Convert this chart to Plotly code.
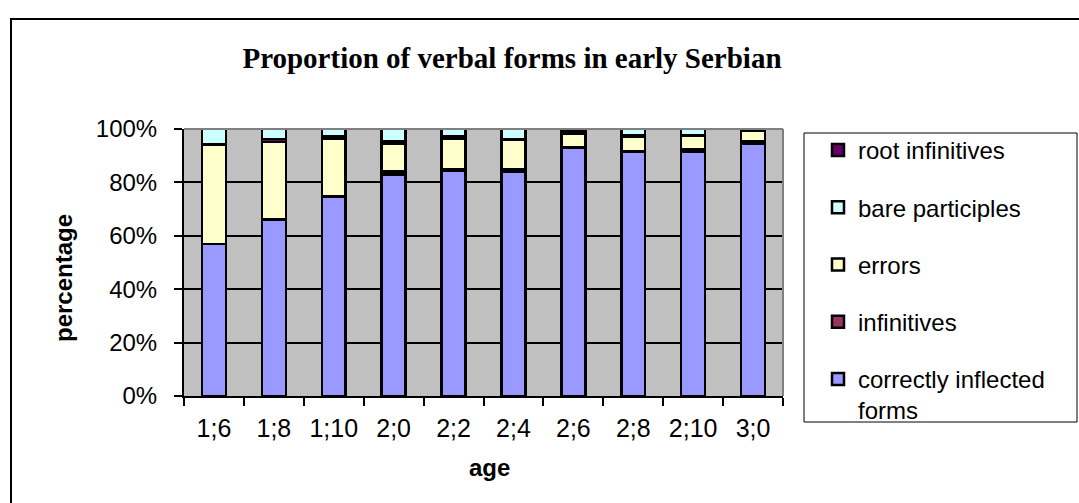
import plotly.graph_objects as go

# Ages (years;months)
ages = ["1;6", "1;8", "1;10", "2;0", "2;2", "2;4", "2;6", "2;8", "2;10", "3;0"]

# Percent of verbal forms at each age
correctly_inflected = [57.0, 66.0, 74.5, 83.0, 84.5, 84.0, 93.0, 91.5, 91.5, 94.3]
infinitives = [0.0, 0.2, 0.3, 1.0, 0.3, 1.0, 0.3, 0.3, 1.0, 1.0]
errors = [37.0, 29.0, 21.5, 10.5, 11.5, 11.0, 5.0, 5.2, 5.0, 4.0]
root_infinitives = [0.3, 1.0, 0.8, 0.9, 0.8, 0.3, 0.8, 0.7, 0.3, 0.7]
bare_participles = [5.7, 3.8, 2.9, 4.6, 2.9, 3.7, 0.9, 2.3, 2.2, 0.0]

y_ticks = [0, 20, 40, 60, 80, 100]
y_tick_labels = ["0%", "20%", "40%", "60%", "80%", "100%"]

# (name, values, colour, legend rank) in stacking order, bottom first
series = [
    ("correctly inflected<br>forms", correctly_inflected, "#9999FF", 5),
    ("infinitives", infinitives, "#993366", 4),
    ("errors", errors, "#FFFFCC", 3),
    ("root infinitives", root_infinitives, "#660066", 1),
    ("bare participles", bare_participles, "#CCFFFF", 2),
]

W, H = 1079, 503
L, R, T, B = 184, 783, 129, 396  # plot area in pixels


def px(x):
    return (x - L) / (R - L)


def py(y):
    return (B - y) / (B - T)


fig = go.Figure()
for i, (name, vals, color, rank) in enumerate(series):
    fig.add_trace(go.Bar(
        x=ages, y=vals, name=name,
        marker=dict(color=color, line=dict(color="black", width=2.5)),
        legendgroup=f"g{i}", legendrank=rank,
    ))

sans = "Liberation Sans, Arial, sans-serif"

fig.update_layout(
    width=W, height=H, autosize=False,
    margin=dict(l=L, r=W - R, t=T, b=H - B),
    barmode="stack", bargap=0.6,
    paper_bgcolor="white", plot_bgcolor="#C0C0C0",
    font=dict(family=sans, color="black"),
    title=dict(
        text="<b>Proportion of verbal forms in early Serbian</b>",
        font=dict(family="Liberation Serif, Times New Roman, serif", size=29, color="black"),
        x=512 / W, xanchor="center", xref="container",
        y=1 - 58 / H, yanchor="middle", yref="container",
    ),
    showlegend=True,
    legend=dict(
        x=px(818), xanchor="left", y=py(128), yanchor="top",
        font=dict(family=sans, size=24, color="black"),
        bgcolor="rgba(0,0,0,0)", borderwidth=0,
        tracegroupgap=23, valign="top", itemwidth=30,
        maxheight=460,
    ),
    xaxis=dict(
        type="category", tickson="boundaries", ticks="outside", ticklen=8,
        tickcolor="black", tickwidth=1.5,
        showline=True, linecolor="black", linewidth=2,
        tickfont=dict(family=sans, size=25, color="black"),
        ticklabelstandoff=9, showgrid=False, fixedrange=True,
    ),
    yaxis=dict(
        range=[0, 100], tickvals=y_ticks, ticktext=y_tick_labels,
        ticks="outside", ticklen=8, tickcolor="black", tickwidth=1.5,
        showline=True, linecolor="black", linewidth=2,
        showgrid=True, gridcolor="black", gridwidth=1.5,
        tickfont=dict(family=sans, size=24, color="black"),
        ticklabelstandoff=12, zeroline=False, fixedrange=True,
    ),
    shapes=[
        # outer chart frame
        dict(type="rect", xref="paper", yref="paper",
             x0=px(11), x1=px(1090), y0=py(520), y1=py(19),
             line=dict(color="black", width=2), fillcolor="rgba(0,0,0,0)", layer="below"),
        # plot area top and right edges
        dict(type="line", xref="paper", yref="paper", x0=0, x1=1, y0=1, y1=1,
             line=dict(color="#808080", width=2)),
        dict(type="line", xref="paper", yref="paper", x0=1, x1=1, y0=0, y1=1,
             line=dict(color="#808080", width=2)),
        # legend box
        dict(type="rect", xref="paper", yref="paper",
             x0=px(804), x1=px(1077), y0=py(422), y1=py(133),
             line=dict(color="black", width=1), fillcolor="white", layer="below"),
    ],
    annotations=[
        dict(text="<b>age</b>", xref="paper", yref="paper",
             x=px(489), y=py(467), xanchor="center", yanchor="middle",
             showarrow=False, font=dict(family=sans, size=24, color="black")),
        dict(text="<b>percentage</b>", xref="paper", yref="paper",
             x=px(63), y=py(278), xanchor="center", yanchor="middle", textangle=-90,
             showarrow=False, font=dict(family=sans, size=24, color="black")),
    ],
)

fig.write_html("out.html", config={"displayModeBar": False})
